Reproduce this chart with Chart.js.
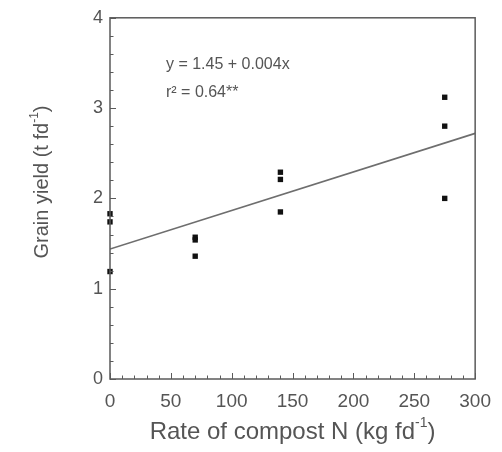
<!DOCTYPE html>
<html>
<head>
<meta charset="utf-8">
<script src="https://cdn.jsdelivr.net/npm/chart.js@4.4.0/dist/chart.umd.min.js"></script>
<style>
  html, body { margin: 0; padding: 0; background: #fff; }
  #wrap { width: 502px; height: 452px; position: relative; }
</style>
</head>
<body>
<div id="wrap"><canvas id="chart"></canvas></div>
<script>
// values
var compostN = [0, 0, 0, 70, 70, 70, 140, 140, 140, 275, 275, 275];
var grainYield = [1.83, 1.74, 1.19, 1.57, 1.54, 1.36, 2.29, 2.21, 1.85, 3.12, 2.80, 2.00];
var fitX = [0, 300];
var fitY = [1.44, 2.72];
var xTickValues = [0, 50, 100, 150, 200, 250, 300];
var yTickValues = [0, 1, 2, 3, 4];
var equationLines = ['y = 1.45 + 0.004x', 'r\u00B2 = 0.64**'];

var FONT = '"Liberation Sans", Arial, sans-serif';
var AXIS_COLOR = '#5a5a5a';
var TEXT_COLOR = '#555';

function drawSupTitle(ctx, base, sup, tail, cx, cy, size, rotate) {
    ctx.save();
    ctx.translate(cx, cy);
    if (rotate) ctx.rotate(-Math.PI / 2);
    var f = size + 'px ' + FONT;
    var fs = Math.round(size * 0.6) + 'px ' + FONT;
    ctx.font = f;
    var w1 = ctx.measureText(base).width;
    var w3 = ctx.measureText(tail).width;
    ctx.font = fs;
    var w2 = ctx.measureText(sup).width;
    var x = -(w1 + w2 + w3) / 2;
    ctx.fillStyle = TEXT_COLOR;
    ctx.textAlign = 'left';
    ctx.textBaseline = 'middle';
    ctx.font = f;
    ctx.fillText(base, x, 0);
    ctx.font = fs;
    ctx.fillText(sup, x + w1, -size * 0.35);
    ctx.font = f;
    ctx.fillText(tail, x + w1 + w2, 0);
    ctx.restore();
}

var framePlugin = {
    id: 'frame',
    afterDraw: function (chart) {
        var ctx = chart.ctx;
        var a = chart.chartArea;
        var xs = chart.scales.x;
        var ys = chart.scales.y;

        ctx.save();
        // box around the plot
        ctx.strokeStyle = AXIS_COLOR;
        ctx.lineWidth = 1.5;
        ctx.strokeRect(a.left, a.top, a.right - a.left, a.bottom - a.top);

        // inward ticks on x
        ctx.lineWidth = 1;
        for (var v = 0; v <= 300; v += 10) {
            var px = Math.round(xs.getPixelForValue(v)) + 0.5;
            var len = (v % 50 === 0) ? 6 : 3.5;
            ctx.beginPath();
            ctx.moveTo(px, a.bottom);
            ctx.lineTo(px, a.bottom - len);
            ctx.stroke();
        }
        // inward ticks on y
        for (var i = 0; i <= 20; i++) {
            var yv = i * 0.2;
            var py = Math.round(ys.getPixelForValue(yv)) + 0.5;
            var l2 = (i % 5 === 0) ? 6 : 3.5;
            ctx.beginPath();
            ctx.moveTo(a.left, py);
            ctx.lineTo(a.left + l2, py);
            ctx.stroke();
        }

        // regression equation
        ctx.fillStyle = TEXT_COLOR;
        ctx.font = '16px ' + FONT;
        ctx.textAlign = 'left';
        ctx.textBaseline = 'middle';
        ctx.fillText(equationLines[0], xs.getPixelForValue(46), ys.getPixelForValue(3.48));
        ctx.fillText(equationLines[1], xs.getPixelForValue(46), ys.getPixelForValue(3.17));
        ctx.restore();

        // axis titles
        drawSupTitle(ctx, 'Rate of compost N (kg fd', '-1', ')', (a.left + a.right) / 2, 432, 24, false);
        drawSupTitle(ctx, 'Grain yield (t fd', '-1', ')', 42, 182, 20, true);
    }
};

new Chart(document.getElementById('chart'), {
    type: 'scatter',
    data: {
        datasets: [{
            type: 'line',
            label: 'fit',
            data: fitX.map(function (x, i) { return { x: x, y: fitY[i] }; }),
            borderColor: '#6e6e6e',
            borderWidth: 1.6,
            pointRadius: 0,
            fill: false,
            order: 2
        }, {
            label: 'yield',
            data: compostN.map(function (x, i) { return { x: x, y: grainYield[i] }; }),
            pointStyle: 'rect',
            pointRadius: 3.8,
            backgroundColor: '#111',
            borderWidth: 0,
            clip: false,
            order: 1
        }]
    },
    options: {
        responsive: true,
        maintainAspectRatio: false,
        animation: false,
        layout: { padding: { top: 15, right: 26, left: 0, bottom: 0 } },
        plugins: {
            legend: { display: false },
            tooltip: { enabled: false }
        },
        scales: {
            x: {
                type: 'linear',
                min: 0,
                max: 300,
                afterFit: function (s) { s.height = 73; },
                afterBuildTicks: function (s) {
                    s.ticks = xTickValues.map(function (v) { return { value: v }; });
                },
                grid: { display: false, drawTicks: false },
                border: { display: false },
                ticks: {
                    padding: 11,
                    color: TEXT_COLOR,
                    font: { family: FONT, size: 19 },
                    maxRotation: 0
                }
            },
            y: {
                type: 'linear',
                min: 0,
                max: 4,
                afterFit: function (s) { s.width = 110; },
                afterBuildTicks: function (s) {
                    s.ticks = yTickValues.map(function (v) { return { value: v }; });
                },
                grid: { display: false, drawTicks: false },
                border: { display: false },
                ticks: {
                    padding: 7,
                    color: TEXT_COLOR,
                    font: { family: FONT, size: 18 }
                }
            }
        }
    },
    plugins: [framePlugin]
});
</script>
</body>
</html>
